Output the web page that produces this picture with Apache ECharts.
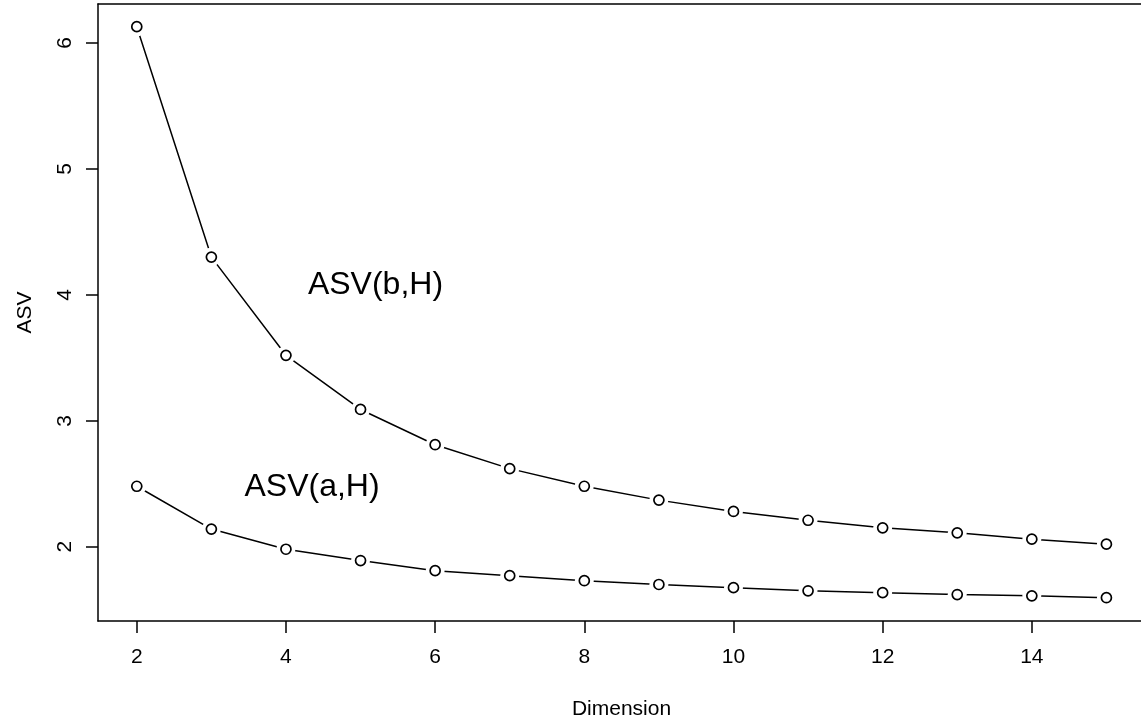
<!DOCTYPE html>
<html>
<head>
<meta charset="utf-8">
<script src="https://cdn.jsdelivr.net/npm/echarts@6/dist/echarts.min.js"></script>
<style>
  html, body { margin: 0; padding: 0; background: #fff; }
  #chart { width: 1141px; height: 722px; }
</style>
</head>
<body>
<div id="chart"></div>
<script>
// dimension (x) and the two ASV curves
const dims = [2, 3, 4, 5, 6, 7, 8, 9, 10, 11, 12, 13, 14, 15];
const asvB = [6.13, 4.30, 3.52, 3.09, 2.81, 2.62, 2.48, 2.37, 2.28, 2.21, 2.15, 2.11, 2.06, 2.02];
const asvA = [2.48, 2.14, 1.98, 1.89, 1.81, 1.77, 1.73, 1.70, 1.675, 1.65, 1.635, 1.62, 1.61, 1.595];

const xTicks = [2, 4, 6, 8, 10, 12, 14];
const yTicks = [2, 3, 4, 5, 6];

// text labels placed in data coordinates
const noteText = ['ASV(b,H)', 'ASV(a,H)'];
const noteX = [5.2, 4.35];
const noteY = [4.08, 2.47];

const font = 'Liberation Sans, Arial, Helvetica, sans-serif';

const chart = echarts.init(document.getElementById('chart'));

const toPairs = ys => dims.map((d, i) => [d, ys[i]]);

const line = ys => ({
  type: 'line',
  data: toPairs(ys),
  showSymbol: false,
  lineStyle: { color: '#000', width: 1.5 },
  z: 1
});

// white discs over the line give the gaps of an R type="b" plot
const mask = ys => ({
  type: 'scatter',
  data: toPairs(ys),
  symbol: 'circle',
  symbolSize: 19,
  itemStyle: { color: '#fff', opacity: 1 },
  z: 2
});

const circles = ys => ({
  type: 'scatter',
  data: toPairs(ys),
  symbol: 'circle',
  symbolSize: 10,
  itemStyle: { color: '#fff', borderColor: '#000', borderWidth: 1.7, opacity: 1 },
  z: 3
});

const edge = { show: true, lineStyle: { color: '#000', width: 1.5 } };

// the plot box runs past the right edge of the picture
const xMin = 1.48;
const xMax = 16.0;

const option = {
  animation: false,
  backgroundColor: '#fff',
  grid: {
    left: 98,
    right: -40,
    top: 4,
    bottom: 101,
    outerBoundsMode: 'none',
    containLabel: false,
    show: false
  },
  xAxis: [{
    type: 'value',
    min: xMin,
    max: xMax,
    name: 'Dimension',
    nameLocation: 'middle',
    nameGap: 78,
    nameTextStyle: { color: '#000', fontSize: 21, fontFamily: font, padding: [0, 36, 0, 0] },
    axisLine: edge,
    splitLine: { show: false },
    axisTick: {
      show: true, length: 12, inside: false,
      customValues: xTicks,
      lineStyle: { color: '#000', width: 1.5 }
    },
    axisLabel: {
      customValues: xTicks,
      color: '#000', fontSize: 21, fontFamily: font, margin: 26
    }
  }, {
    // top edge of the box
    type: 'value',
    position: 'top',
    min: xMin,
    max: xMax,
    axisLine: edge,
    axisTick: { show: false },
    axisLabel: { show: false },
    splitLine: { show: false }
  }],
  yAxis: {
    type: 'value',
    min: 1.41,
    max: 6.31,
    name: 'ASV',
    nameLocation: 'middle',
    nameGap: 62,
    nameRotate: 90,
    nameTextStyle: { color: '#000', fontSize: 21, fontFamily: font },
    axisLine: edge,
    splitLine: { show: false },
    axisTick: {
      show: true, length: 12, inside: false,
      customValues: yTicks,
      lineStyle: { color: '#000', width: 1.5 }
    },
    axisLabel: {
      customValues: yTicks,
      rotate: 90,
      color: '#000', fontSize: 21, fontFamily: font, margin: 22
    }
  },
  series: [
    line(asvB),
    line(asvA),
    mask(asvB),
    mask(asvA),
    circles(asvB),
    circles(asvA),
    {
      type: 'scatter',
      symbolSize: 0,
      itemStyle: { color: '#000', opacity: 1 },
      data: noteText.map((t, i) => ({ value: [noteX[i], noteY[i]], name: t })),
      label: {
        show: true,
        position: 'inside',
        formatter: p => p.name,
        color: '#000',
        opacity: 1,
        textBorderWidth: 0,
        fontSize: 32,
        fontFamily: font
      },
      z: 4
    }
  ]
};

chart.setOption(option);
</script>
</body>
</html>
